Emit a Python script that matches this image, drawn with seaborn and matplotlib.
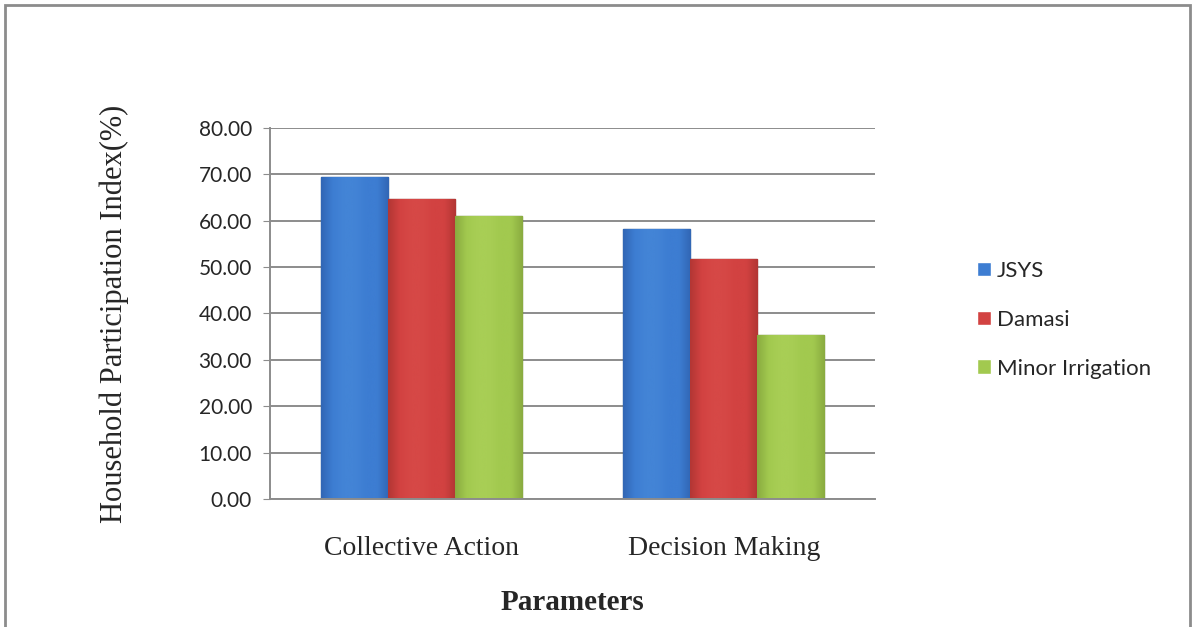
from matplotlib import pyplot as plt
from matplotlib.patches import Rectangle
from matplotlib.colors import LinearSegmentedColormap
import numpy as np
import pandas as pd
import seaborn as sns

# Data
parameters = ['Collective Action', 'Decision Making']
schemes = ['JSYS', 'Damasi', 'Minor Irrigation']
jsys = [69.4, 58.2]
damasi = [64.7, 51.8]
minor_irrigation = [61.0, 35.4]

df = pd.DataFrame({
    'parameter': parameters * 3,
    'scheme': [s for s in schemes for _ in parameters],
    'value': jsys + damasi + minor_irrigation,
})

colors = ['#3d7dd2', '#d24241', '#a2c94f']
lights = ['#4384d6', '#d64846', '#a8ce55']
darks = ['#3267b5', '#b33634', '#8aac40']
edges = ['#27548f', '#8c2a28', '#66852a']

sns.set_style('white')
fig = plt.figure(figsize=(11.96, 6.27), dpi=100)
ax = fig.add_axes([0.2258, 0.2042, 0.5058, 0.5917])

sns.barplot(data=df, x='parameter', y='value', hue='scheme', hue_order=schemes,
            palette=colors, width=0.665, ax=ax, saturation=1, legend=True)

# subtle horizontal shading, darker towards the edges
grad = np.linspace(0, 1, 64).reshape(1, -1)
for cont, lc, mc, dc, ec in zip(ax.containers, lights, colors, darks, edges):
    cmap = LinearSegmentedColormap.from_list('b', [dc, mc, lc, lc, mc, mc, dc])
    for bar in cont:
        bar.set_edgecolor(ec)
        bar.set_linewidth(1.0)
        x0, w, h = bar.get_x(), bar.get_width(), bar.get_height()
        im = ax.imshow(grad, cmap=cmap, aspect='auto', extent=(x0, x0 + w, 0, h),
                       zorder=bar.get_zorder(), interpolation='bicubic')
        im.set_clip_path(bar)

ax.set_ylim(0, 80)
ax.set_xlim(-0.5, 1.5)
ax.set_yticks(range(0, 81, 10))
ax.set_yticklabels([f'{v:.2f}' for v in range(0, 81, 10)],
                   fontsize=15, family='Lato')
ax.set_xticks(range(len(parameters)))
ax.set_xticklabels(parameters, fontsize=20, family='Liberation Serif')
ax.tick_params(axis='x', length=0, pad=27)
ax.tick_params(axis='y', length=5, color='#8c8c8c', left=True, pad=8)

ax.yaxis.grid(True, color='#8c8c8c', linewidth=1.4)
ax.set_axisbelow(True)
for side in ['top', 'right']:
    ax.spines[side].set_visible(False)
for side in ['left', 'bottom']:
    ax.spines[side].set_color('#8c8c8c')
    ax.spines[side].set_linewidth(1.4)

ax.set_xlabel('Parameters', fontsize=21, family='Liberation Serif',
              fontweight='bold', labelpad=20)
ax.set_ylabel('Household Participation Index(%)', fontsize=22,
              family='Liberation Serif', labelpad=50)

leg = ax.legend(loc='center left', bbox_to_anchor=(1.135, 0.483), frameon=False,
                prop={'family': 'Lato', 'size': 16},
                handlelength=0.65, handleheight=0.65, handletextpad=0.25,
                labelspacing=1.3)

# outer frame of the figure
fig.patches.append(Rectangle((5 / 1196, -0.05), 1185 / 1196, 1.05 - 5 / 627,
                             transform=fig.transFigure, fill=False,
                             edgecolor='#8c8c8c', linewidth=2))

fig.savefig('out.png', dpi=100)
